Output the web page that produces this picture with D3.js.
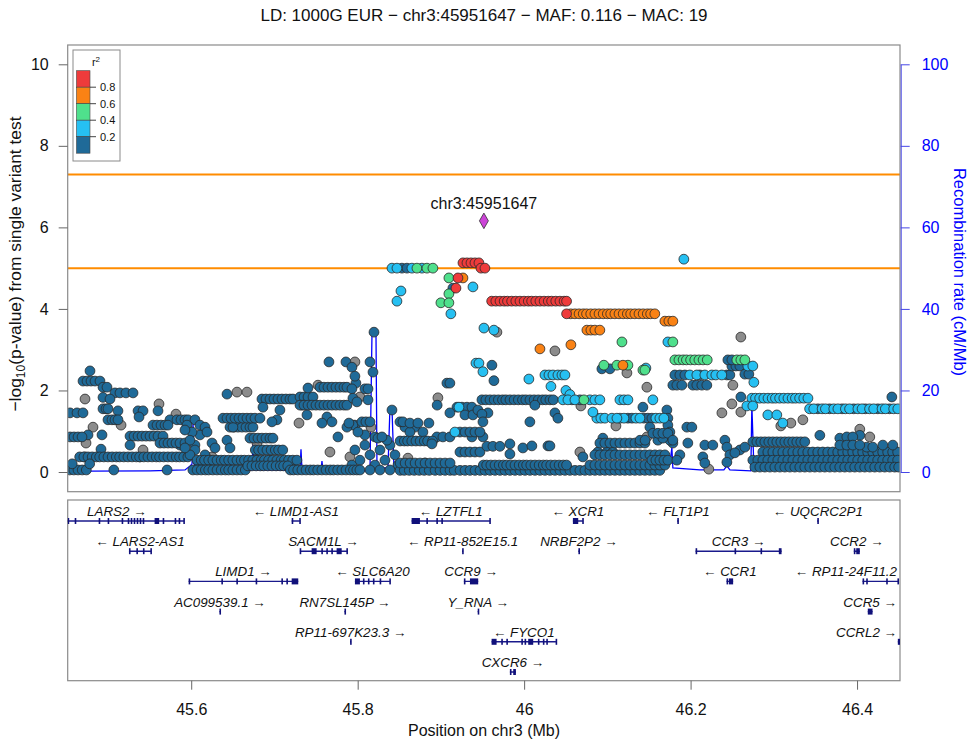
<!DOCTYPE html>
<html><head><meta charset="utf-8">
<script src="https://cdn.jsdelivr.net/npm/d3@7"></script>
<style>body{margin:0;background:#fff}svg{font-family:"Liberation Sans",Arial,sans-serif}</style>
</head><body><svg id="c" width="969" height="741"></svg>
<script>
// ---------------- DATA ----------------
const titleText = "LD: 1000G EUR \u2212 chr3:45951647 \u2212 MAF: 0.116 \u2212 MAC: 19";
const xDomain = [45.4516, 46.4516];
const xTicks = [45.6, 45.8, 46.0, 46.2, 46.4];
const leftTicks = [0, 2, 4, 6, 8, 10];
const rightTicks = [0, 20, 40, 60, 80, 100];
const thresholds = [7.3, 5];
const lead = {pos: 45.951647, logp: 6.16, label: "chr3:45951647"};
const legendBreaks = [0.2, 0.4, 0.6, 0.8];
const legendColors = ['#1F6A98', '#26C0F2', '#4FE08C', '#FA8214', '#EE3B3B'];

// SNP rows: [ -log10 p, [positions in Mb] ]
const snpRed = [
 [5.13,[45.9265,45.9313,45.9361,45.9409,45.9457]],
 [5.0,[45.9481,45.9529]],
 [4.76,[45.9205]],
 [4.51,[45.9181]],
 [4.19,[45.961,45.966,45.971,45.976,45.980,45.985,45.990,45.995,46.000,46.005,46.009,46.014,46.019,46.024,46.029,46.033,46.038,46.043,46.048,46.051]],
 [3.88,[46.051]]
];
const snpOrange = [
 [4.76,[45.9265]],
 [3.88,[46.056,46.061,46.066,46.071,46.075,46.080,46.085,46.090,46.095,46.100,46.104,46.109,46.114,46.119,46.124,46.128,46.133,46.138,46.143,46.148,46.152,46.157]],
 [3.70,[46.1691,46.1739,46.1787]],
 [3.48,[46.0754,46.0802,46.0850,46.0910]],
 [3.02,[46.0190]],
 [3.12,[46.0562]],
 [2.62,[46.1187]]
];
const snpGreen = [
 [5.0,[45.8712,45.8832,45.8904]],
 [4.76,[45.9096]],
 [4.37,[45.9096]],
 [4.15,[45.9000,45.9096]],
 [3.19,[46.1175,46.1787]],
 [2.62,[46.0958,46.1115,46.1247]],
 [2.5,[46.1427,46.1451]],
 [2.75,[46.1811,46.186,46.191,46.195,46.200,46.205,46.210,46.215,46.220,46.2556,46.2604,46.2652]],
 [1.77,[46.0718]]
];
const snpCyan = [
 [5.22,[46.1919]],
 [5.0,[45.8412,45.8472,45.8652,45.8772]],
 [4.44,[45.8520]],
 [4.19,[45.8472]],
 [3.88,[45.9120]],
 [4.54,[45.9385]],
 [3.53,[45.9517]],
 [3.48,[45.9637]],
 [3.19,[46.1727]],
 [2.67,[45.9421,45.9457]],
 [2.46,[45.9505]],
 [2.28,[46.0057]],
 [2.38,[46.0250,46.0298,46.0346,46.0406,46.0454,46.0490]],
 [2.10,[46.0322]],
 [2.0,[46.0502]],
 [1.9,[46.0550]],
 [2.55,[46.1463]],
 [2.38,[46.1991,46.2075,46.2171,46.2255,46.2303,46.2375]],
 [2.6,[46.2688,46.2748]],
 [2.2,[46.2760]],
 [1.81,[46.2736,46.278,46.283,46.288,46.293,46.298,46.302,46.307,46.312,46.317,46.322,46.326,46.331,46.336,46.341]],
 [1.62,[46.2676,46.2748]],
 [1.55,[46.343,46.348,46.358,46.362,46.372,46.377,46.386,46.391,46.401,46.406,46.415,46.420,46.430,46.434,46.444,46.449]],
 [1.4,[46.2928,46.3036]],
 [1.2,[46.3108]],
 [1.77,[46.1151,46.1199,46.1247,46.1547,46.0466,46.0526,46.0610,46.0790,46.0850,46.0910]],
 [1.32,[46.1151,46.1199,46.1343,46.1391,46.1583,46.1631,46.1679,46.0874,46.0922,46.0970,46.1055,46.1115]],
 [1.47,[46.0826]],
 [1.59,[45.9217]],
 [0.98,[45.9168]]
];
const snpBlue = [
 [3.43,[45.8196]],
 [2.70,[45.8148,45.7655,45.7859]],
 [2.45,[45.8184]],
 [2.62,[45.9613]],
 [2.24,[45.9637]],
 [2.18,[45.9072,45.9108,45.7979]],
 [5.0,[45.8532,45.8592]],
 [4.51,[45.9144]],
 [1.77,[45.9493,45.954,45.959,45.964,45.969,45.974,45.978,45.983,45.988,45.993,45.998,46.002,46.007,46.012,46.017,46.022,46.026,46.031,46.035,46.0574,46.0670,45.8124]],
 [1.59,[45.9193,45.9253,45.9313,45.9373,46.1427]],
 [1.64,[45.8955,46.0129]],
 [1.45,[45.9108,45.9565,46.0370]],
 [1.4,[45.9289,45.9385]],
 [1.52,[45.9445,46.1715,45.8412]],
 [1.42,[45.9493]],
 [1.23,[45.9505,46.0069]],
 [1.32,[46.0406,46.1247,46.1295,46.1439,46.1487,46.1535,46.1727]],
 [2.13,[46.1787,46.1835,46.1895,46.2027,46.2075,46.2135,46.2195]],
 [2.38,[46.1811,46.1871,46.1931,46.2111,46.2436,46.2472]],
 [2.6,[46.2496,46.2544,46.2592]],
 [2.4,[46.2652,46.2700]],
 [2.75,[46.2448,46.2496]],
 [2.53,[46.0934,46.1031]],
 [1.84,[46.2604,46.4418]],
 [1.55,[46.353,46.367,46.382,46.396,46.410,46.425,46.439]],
 [2.48,[45.4784]],
 [2.23,[45.4700,45.4748,45.4796,45.4844,45.4904]],
 [2.08,[45.4940,45.4988]],
 [1.94,[45.5084,45.5144,45.5216,45.5301]],
 [1.83,[45.4940]],
 [1.79,[45.5024]],
 [1.55,[45.4940,45.4976,45.5000]],
 [1.45,[45.4544,45.4628,45.4700]],
 [1.5,[45.5120,45.5361,45.5421,45.5601]],
 [1.28,[45.5000,45.5048,45.5084,45.5120,45.5745,45.5829,45.5877,45.5925,45.5961,45.6045,45.7030]],
 [0.91,[45.4760,45.4928,45.6105,45.8087]],
 [0.86,[45.4544,45.4592,45.4640,45.4688,45.7763,45.8208,45.8952,45.9024,45.9108,45.9373,45.9505]],
 [0.88,[45.5265,45.5313,45.5361,45.5409,45.5457,45.5505,45.5553,45.5601,45.5661]],
 [0.66,[45.5265,45.5865,45.6045,46.2171,46.2267,45.8087,45.8388]],
 [1.35,[45.5373,45.7631]],
 [1.15,[45.5541,45.5589,45.5637,45.5685,45.5721,45.5949,45.6105,45.7967,46.1727,45.7943]],
 [0.71,[45.5625,45.5673,45.5721,45.5769,45.5817,45.5865,45.5925,45.6250,46.1967,46.1787]],
 [0.56,[45.4916]],
 [0.37,[45.466,45.471,45.476,45.481,45.486,45.490,45.495,45.500,45.505,45.510,45.514,45.519,45.524,45.529,45.534,45.538,45.543,45.548,45.553,45.558,45.562,45.567,45.572,45.577,45.582,45.586,45.591,45.596]],
 [0.05,[45.454,45.459,45.464,45.469,45.474,45.507,45.571]],
 [0.2,[45.457,45.478]],
 [1.10,[45.6166,45.6466,45.6514,45.6562,45.6610,45.6658,45.6706,45.6742,45.6502,45.7871,46.1955,46.2015,46.1511,45.8568,45.8688]],
 [0.98,[45.6190,45.6010,45.8003,45.8628,45.8784,46.1751,45.9229,45.9289,45.9349,45.9409,45.9469]],
 [1.03,[45.5925]],
 [0.78,[45.5985,45.6430,45.8352,46.1607,46.1751,46.2412]],
 [0.54,[45.6045,45.677,45.681,45.686,45.691,45.696,45.701,45.705,45.710,46.2592,45.7967,45.8268]],
 [0.42,[45.5985,45.6166,46.1871,45.8148,45.8448]],
 [0.17,[45.6105,45.8208,45.8484,45.7931]],
 [0.29,[45.6226,45.8027,45.8328]],
 [0.59,[45.5925,45.6286,45.6466]],
 [1.91,[45.6430]],
 [1.32,[45.6382,45.6430,45.6478,45.6526,45.6574,45.6622,45.6670,45.6718,45.6766,45.6826]],
 [0.83,[45.6706,45.6754,45.6802,45.6850,45.6898,45.6946,45.6982,45.8244,46.1667]],
 [1.79,[45.6850,45.6898,45.6946,45.6994,45.7042,45.7090,45.7138,45.7186,45.7222]],
 [1.59,[45.6862]],
 [1.52,[45.7066]],
 [1.23,[45.6970,45.7691,45.8051,45.8099,45.8148,45.8508,45.8544]],
 [1.84,[45.7307,45.7355,45.7403,45.7463]],
 [1.64,[45.7331,45.7307,45.7355,45.7403,45.7451,45.7499,45.7547,45.7595,45.7643,45.7691,45.7739,45.7787,45.7835,45.7871]],
 [2.06,[45.7403]],
 [1.40,[45.7391]],
 [2.08,[45.7547,45.7595,45.7643,45.7691,45.7739,45.7787,45.7835,45.7871]],
 [2.57,[45.7931]],
 [2.35,[45.7967]],
 [1.20,[45.7571,45.7895,45.8628,45.8724,45.8856]],
 [2.04,[45.7931,45.8087,45.8124]],
 [1.81,[45.7943]],
 [1.72,[45.7991]],
 [0.86,[45.8292]],
 [0.29,[45.607,45.612,45.616,45.621,45.626,45.631,45.636,45.640,45.645,45.650,45.655,45.660,45.664,45.669,45.674,45.679,45.684,45.688,45.693,45.698,45.703,45.708,45.712,45.717,45.722,45.727]],
 [0.05,[45.602,45.607,45.612,45.617,45.621,45.626,45.631,45.636,45.641,45.645,45.650,45.655,45.660,45.665]],
 [0.15,[45.668,45.673,45.678,45.683,45.687,45.692,45.697,45.702,45.707,45.711,45.716]],
 [0.05,[45.719,45.723,45.728,45.733,45.738,45.743,45.747,45.752,45.757,45.762,45.767,45.771,45.776,45.781,45.786,45.791,45.795,45.799,45.8027,45.8148,45.8268,45.8388]],
 [0.76,[45.851,45.856,45.860,45.865,45.870,45.875,45.880,45.884,45.890]],
 [0.69,[45.8892,45.9829]],
 [0.04,[45.851,45.856,45.862,45.868,45.874,45.880,45.886,45.893,45.899,45.905,45.911,45.916,45.923,45.929,45.935,45.941,45.947,45.953,45.959,45.965,45.971,45.977,45.983,45.989,45.995,46.001,46.007,46.013,46.019,46.025,46.031,46.037,46.043,46.049,46.055,46.061,46.067,46.073,46.079,46.085,46.091,46.097,46.103,46.109,46.115,46.121,46.127,46.133,46.139,46.145,46.151,46.157,46.163]],
 [0.17,[45.951,45.955,45.960,45.965,45.970,45.975,45.979,45.984,45.989,45.994,45.999,46.003,46.008,46.013,46.018,46.023,46.027,46.032,46.037,46.042,46.047,46.051]],
 [0.22,[45.851,45.857,45.863,45.869,45.875,45.881,45.887,45.893,45.899,45.905,45.911]],
 [0.49,[45.9229,45.9289,45.9349,45.9409,45.9469]],
 [0.63,[45.9553,45.9625,45.9709]],
 [0.44,[45.9829]],
 [0.59,[45.9985]],
 [0.64,[46.0093,46.0286,46.0310]],
 [0.37,[46.0706]],
 [0.49,[46.0886,46.0994,46.1067]],
 [0.83,[46.0946]],
 [0.71,[46.0910,46.0970,46.1031,46.1091,46.1151,46.1211,46.1271,46.1331,46.1391,46.1451]],
 [0.42,[46.0850,46.0910,46.0970,46.1031,46.1091,46.1151,46.1211,46.1271,46.1331,46.1391,46.1451,46.1511,46.1571,46.1631,46.1691]],
 [0.17,[46.0790,46.0850,46.0910,46.0970,46.1031,46.1091,46.1151,46.1211,46.1271,46.1331,46.1391,46.1451,46.1511,46.1571,46.1631,46.1691]],
 [0.95,[46.1547,46.1607,46.1667,46.1727]],
 [0.78,[46.1787,46.1393,46.1453]],
 [0.29,[46.1535,46.1583,46.1631,46.1679,46.1727,46.1835]],
 [0.37,[46.2147]],
 [0.22,[46.2171]],
 [0.61,[46.2436]],
 [0.42,[46.2472]],
 [0.24,[46.2436]],
 [0.47,[46.2532]],
 [0.61,[46.2652]],
 [0.74,[46.2748,46.2796,46.2844,46.2892,46.2940,46.2988,46.3036,46.3084,46.3132,46.3180,46.3228,46.3276,46.3324,46.3372]],
 [0.49,[46.2868,46.2928,46.2988,46.3048,46.3108,46.3168,46.3228,46.3288,46.3348,46.3408,46.3468,46.3528,46.3588,46.3648,46.3708,46.3768,46.3828,46.3888,46.3948,46.4008,46.4068,46.4128,46.4188,46.4248,46.4308,46.4368,46.4428,46.4488]],
 [0.29,[46.2748,46.2808,46.2868,46.2928,46.2988,46.3048,46.3108,46.3168,46.3228,46.3288,46.3348,46.3408,46.3468,46.3528,46.3588,46.3648,46.3708,46.3768,46.3828,46.3888,46.3948,46.4008,46.4068,46.4128,46.4188,46.4248,46.4308,46.4368,46.4428,46.4488]],
 [0.12,[46.2772,46.2832,46.2892,46.2952,46.3012,46.3072,46.3132,46.3192,46.3252,46.3312,46.3372,46.3432,46.3492,46.3552,46.3612,46.3672,46.3732,46.3792,46.3852,46.3912,46.3972,46.4032,46.4092,46.4152,46.4212,46.4272,46.4332,46.4392,46.4452,46.4500]],
 [0.9,[46.3553,46.4033]],
 [0.83,[46.3793]],
 [0.86,[46.3877,46.3949]],
 [0.61,[46.4117,46.4189]],
 [0.66,[46.3793,46.3877,46.3949,46.4033,46.4310,46.4430]]
];
const snpGrey = [
 [1.79,[45.4724]],[1.15,[45.5157]],[1.10,[45.4820,45.8160]],[0.71,[45.4736,45.6790]],
 [1.67,[45.5613]],[1.42,[45.5817]],[1.96,[45.6550,45.6670]],[1.20,[45.7295]],
 [2.13,[45.7523,46.2508]],[2.70,[45.7967]],[0.37,[45.7907,45.4724,45.5385,45.6250]],
 [1.84,[45.8027]],[1.82,[45.8964]],[3.43,[45.9673]],[2.97,[46.0370]],[3.31,[46.2604]],
 [2.43,[46.1235]],[1.13,[46.1103]],[2.08,[46.1475]],[0.86,[46.1475,46.4153]],
 [1.67,[46.2496]],[1.47,[46.2604]],[1.45,[46.2376]],[1.13,[46.3084]],[1.20,[46.3205]],
 [1.28,[46.3349]],[1.05,[46.4033]],[0.49,[46.0670,45.7667]],[0.07,[46.2219,45.7253]],
 [1.62,[46.0682]],[0.12,[45.9565]],[0.34,[45.8604]],[0.22,[45.8808]],[0.54,[45.5421]],
 [0.17,[45.7030]],[0.29,[45.6790,45.6946]]
];
const ldClassR2 = {grey: NaN, blue: 0.1, cyan: 0.3, green: 0.5, orange: 0.7, red: 0.9};

// Recombination rate (cM/Mb)
const recombPos = [45.4520,45.4760,45.5505,45.5926,45.5986,45.6010,45.6022,45.6034,45.6058,45.6418,45.6454,45.6490,45.6730,45.6742,45.6754,45.7307,45.7319,45.7331,45.7559,45.7571,45.7583,45.8148,45.8172,45.8220,45.8232,45.8364,45.8388,45.8412,45.8436,45.8484,45.9097,45.9109,45.9121,46.0910,46.1631,46.1667,46.1751,46.1775,46.1787,46.2112,46.2400,46.2436,46.2472,46.2724,46.2736,46.2760,46.3313,46.3793,46.3853,46.3997,46.4153,46.4514];
const recombRate = [0.3,0.2,0.3,0.5,1.5,2,12,2,0.8,0.8,3.4,0.8,0.5,7,0.5,0.4,5.6,0.4,0.3,2.7,0.3,0.3,34,34,1,1,15.7,15.7,1,0.3,0.2,3,0.2,0.2,0.3,1,2,6,1,0.5,0.5,1.5,0.5,0.3,16.4,1.5,1,1,0.8,1,0.5,0.5];

// Genes
const geneName  = ["LARS2","LIMD1-AS1","LZTFL1","XCR1","FLT1P1","UQCRC2P1",
                   "LARS2-AS1","SACM1L","RP11-852E15.1","NRBF2P2","CCR3","CCR2",
                   "LIMD1","SLC6A20","CCR9","CCR1","RP11-24F11.2",
                   "AC099539.1","RN7SL145P","Y_RNA","CCR5",
                   "RP11-697K23.3","FYCO1","CCRL2","CXCR6"];
const geneStart = [45.4300,45.7207,45.8648,46.0586,46.1840,46.3522,
                   45.5252,45.7306,45.9255,46.0652,46.2060,46.3961,
                   45.5969,45.7967,45.9276,46.2432,46.4066,
                   45.6339,45.7841,45.9442,46.4129,
                   45.7909,45.9609,46.4490,45.9829];
const geneEnd   = [45.5913,45.7306,45.9589,46.0706,46.1855,46.3536,
                   45.5517,45.7871,45.9267,46.0664,46.3093,46.4033,
                   45.7286,45.8387,45.9448,46.2511,46.4493,
                   45.6351,45.7853,45.9454,46.4186,
                   45.7921,46.0382,46.4600,45.9901];
const geneStrand = ["+","-","-","-","-","-", "-","+","-","+","+","+", "+","-","+","-","-", "+","+","+","+", "+","-","+","+"];
const geneRow    = [0,0,0,0,0,0, 1,1,1,1,1,1, 2,2,2,2,2, 3,3,3,3, 4,4,4, 5];
const geneExons = [
 [[45.4515,45.4525],[45.4600,45.4608],[45.4888,45.4896],[45.4996,45.5004],[45.5164,45.5172],[45.5237,45.5245],[45.5273,45.5281],[45.5309,45.5317],[45.5345,45.5353],[45.5381,45.5389],[45.5417,45.5425],[45.5560,45.5615],[45.5657,45.5665],[45.5801,45.5809],[45.5849,45.5857],[45.5905,45.5913]],
 [[45.7207,45.7215],[45.7298,45.7306]],
 [[45.8648,45.8748],[45.8825,45.8833],[45.8945,45.8953],[45.9005,45.9013],[45.9581,45.9589]],
 [[46.0586,46.0650],[46.0698,46.0706]],
 [[46.1840,46.1855]],
 [[46.3522,46.3536]],
 [[45.5252,45.5260],[45.5341,45.5349],[45.5420,45.5428],[45.5509,45.5517]],
 [[45.7303,45.7311],[45.7447,45.7507],[45.7563,45.7571],[45.7623,45.7631],[45.7683,45.7691],[45.7747,45.7808],[45.7864,45.7872]],
 [[45.9255,45.9267]],
 [[46.0652,46.0664]],
 [[46.2060,46.2068],[46.2528,46.2536],[46.2840,46.2848],[46.3060,46.3093]],
 [[46.3961,46.3975],[46.3990,46.4033]],
 [[45.5969,45.5977],[45.6362,45.6370],[45.6542,45.6550],[45.6774,45.6782],[45.7083,45.7091],[45.7143,45.7151],[45.7207,45.7286]],
 [[45.7967,45.8027],[45.8063,45.8071],[45.8123,45.8131],[45.8183,45.8191],[45.8264,45.8272],[45.8380,45.8388]],
 [[45.9276,45.9284],[45.9349,45.9448]],
 [[46.2432,46.2445],[46.2460,46.2511]],
 [[46.4066,46.4074],[46.4110,46.4118],[46.4350,46.4358],[46.4485,46.4493]],
 [[45.6339,45.6351]],
 [[45.7841,45.7853]],
 [[45.9442,45.9454]],
 [[46.4129,46.4186]],
 [[45.7909,45.7921]],
 [[45.9609,45.9669],[45.9725,45.9733],[45.9786,45.9794],[45.9966,45.9974],[46.0005,46.0013],[46.0049,46.0109],[46.0165,46.0173],[46.0225,46.0233],[46.0266,46.0274],[46.0378,46.0386]],
 [[46.4490,46.4600]],
 [[45.9829,45.9837],[45.9869,45.9901]]
];

// ---------------- DRAWING ----------------
const svg = d3.select('#c');
const P = {l: 67.7, r: 900, t: 45, b: 491.7};
const G = {t: 500, b: 680.7};
const x = d3.scaleLinear().domain(xDomain).range([P.l, P.r]);
const y = d3.scaleLinear().domain([0, 10]).range([472, 64.3]);
const yr = d3.scaleLinear().domain([0, 100]).range([472, 64.3]);
const ldColor = d3.scaleThreshold().domain(legendBreaks).range(legendColors);
const colorOf = r2 => isNaN(r2) ? '#8C8C8C' : ldColor(r2);

svg.append('defs').append('clipPath').attr('id','pc')
  .append('rect').attr('x',P.l).attr('y',P.t).attr('width',P.r-P.l).attr('height',P.b-P.t);
svg.select('defs').append('clipPath').attr('id','gc')
  .append('rect').attr('x',P.l).attr('y',G.t).attr('width',P.r-P.l).attr('height',G.b-G.t);

// title
svg.append('text').attr('x',484).attr('y',21).attr('text-anchor','middle')
  .attr('font-size',17).attr('fill','#111').text(titleText);

// thresholds
const plot = svg.append('g').attr('clip-path','url(#pc)');
plot.selectAll('line.th').data(thresholds).enter().append('line')
  .attr('x1',P.l).attr('x2',P.r).attr('y1',d=>y(d)).attr('y2',d=>y(d))
  .attr('stroke','#FF8C00').attr('stroke-width',2);

// recombination
const recomb = recombPos.map((p,i)=>[p,recombRate[i]]);
plot.append('path').datum(recomb)
  .attr('d', d3.line().x(d=>x(d[0])).y(d=>yr(d[1])))
  .attr('fill','none').attr('stroke','#0000FF').attr('stroke-width',1.3);

// points
const groups = [['grey',snpGrey],['blue',snpBlue],['cyan',snpCyan],['green',snpGreen],['orange',snpOrange],['red',snpRed]];
const pts = [];
groups.forEach(([k,rows])=>{
  rows.forEach(([lp,arr])=>arr.forEach(p=>pts.push({pos:p,logp:lp,r2:ldClassR2[k]})));
});
plot.selectAll('circle.snp').data(pts).enter().append('circle')
  .attr('cx',d=>x(d.pos)).attr('cy',d=>y(d.logp)).attr('r',4.9)
  .attr('fill',d=>colorOf(d.r2)).attr('stroke','#2a2a2a').attr('stroke-width',0.8);

// lead
plot.append('path').attr('d',d3.symbol().type(d3.symbolDiamond).size(70)())
  .attr('transform',`translate(${x(lead.pos)},${y(lead.logp)})`)
  .attr('fill','#CC44D8').attr('stroke','#333').attr('stroke-width',0.8);
svg.append('text').attr('x',x(lead.pos)).attr('y',y(lead.logp)-12)
  .attr('text-anchor','middle').attr('font-size',16).attr('fill','#111').text(lead.label);

// frames
svg.append('rect').attr('x',P.l).attr('y',P.t).attr('width',P.r-P.l).attr('height',P.b-P.t)
  .attr('fill','none').attr('stroke','#8a8a8a').attr('stroke-width',1.2);
svg.append('rect').attr('x',P.l).attr('y',G.t).attr('width',P.r-P.l).attr('height',G.b-G.t)
  .attr('fill','none').attr('stroke','#8a8a8a').attr('stroke-width',1.2);

// left axis
const la = svg.append('g').attr('transform',`translate(${P.l},0)`)
  .call(d3.axisLeft(y).tickValues(leftTicks).tickSize(9).tickPadding(10).tickSizeOuter(0));
la.select('.domain').remove();
la.selectAll('line').attr('stroke','#666');
la.selectAll('text').attr('font-size',16).attr('fill','#111').attr('font-family','Liberation Sans, Arial, sans-serif');

// right axis
const ra = svg.append('g').attr('transform',`translate(${P.r+0.7},0)`)
  .call(d3.axisRight(yr).tickValues(rightTicks).tickSize(9).tickPadding(12).tickSizeOuter(0));
ra.select('.domain').attr('stroke','#4646E6');
ra.selectAll('line').attr('stroke','#4646E6');
ra.selectAll('text').attr('font-size',16).attr('fill','#0000FF').attr('font-family','Liberation Sans, Arial, sans-serif');

// x axis
const xa = svg.append('g').attr('transform',`translate(0,${G.b})`)
  .call(d3.axisBottom(x).tickValues(xTicks).tickSize(9).tickPadding(14).tickFormat(d=>String(+d.toFixed(1))));
xa.select('.domain').remove();
xa.selectAll('line').attr('stroke','#666');
xa.selectAll('text').attr('font-size',16).attr('fill','#111').attr('font-family','Liberation Sans, Arial, sans-serif');

// axis titles
const yl = svg.append('text').attr('transform','translate(21,264) rotate(-90)')
  .attr('text-anchor','middle').attr('font-size',17.4).attr('fill','#111');
yl.append('tspan').text('\u2212log');
yl.append('tspan').attr('font-size',12).attr('dy',4).text('10');
yl.append('tspan').attr('dy',-4).text('(p-value) from single variant test');
svg.append('text').attr('transform','translate(954,272) rotate(90)')
  .attr('text-anchor','middle').attr('font-size',16.5).attr('fill','#0000FF').text('Recombination rate (cM/Mb)');
svg.append('text').attr('x',484).attr('y',736).attr('text-anchor','middle')
  .attr('font-size',16).attr('fill','#111').text('Position on chr3 (Mb)');

// legend
const lg = svg.append('g');
lg.append('rect').attr('x',73).attr('y',50).attr('width',47).attr('height',111)
  .attr('fill','#fff').attr('stroke','#8a8a8a').attr('stroke-width',1);
const lt = lg.append('text').attr('x',96).attr('y',66).attr('text-anchor','middle').attr('font-size',11).attr('fill','#111');
lt.append('tspan').text('r');
lt.append('tspan').attr('font-size',8).attr('dy',-4).text('2');
const boxH = 16.5, boxTop = 70.7;
legendColors.slice().reverse().forEach((c,i)=>{
  lg.append('rect').attr('x',76.5).attr('y',boxTop+i*boxH).attr('width',13.5).attr('height',boxH)
    .attr('fill',c).attr('stroke','#444').attr('stroke-width',0.6);
});
legendBreaks.slice().reverse().forEach((b,i)=>{
  const yy = boxTop+(i+1)*boxH;
  lg.append('line').attr('x1',90).attr('x2',96).attr('y1',yy).attr('y2',yy).attr('stroke','#444');
  lg.append('text').attr('x',100).attr('y',yy+4).attr('font-size',11).attr('fill','#111').text(b.toFixed(1));
});

// genes
const gg = svg.append('g');
const gclip = gg.append('g').attr('clip-path','url(#gc)');
const rowLine = r => 521 + r*30.2;
geneName.forEach((nm,i)=>{
  const ly = rowLine(geneRow[i]);
  gclip.append('line').attr('x1',x(geneStart[i])).attr('x2',x(geneEnd[i]))
    .attr('y1',ly).attr('y2',ly).attr('stroke','#1a1a8c').attr('stroke-width',1.4);
  geneExons[i].forEach(e=>{
    const x0 = x(e[0]), w = Math.max(1.6, x(e[1])-x(e[0]));
    gclip.append('rect').attr('x',x0).attr('y',ly-3).attr('width',w).attr('height',6).attr('fill','#10107a');
  });
  const label = geneStrand[i]==='+' ? nm+' \u2192' : '\u2190 '+nm;
  const t = gg.append('text').attr('y',ly-5).attr('text-anchor','middle')
    .attr('font-size',13.4).attr('font-style','italic').attr('fill','#111').text(label);
  const w = t.node().getComputedTextLength();
  let cx = x((geneStart[i]+geneEnd[i])/2);
  cx = Math.max(P.l+3+w/2, Math.min(P.r-3-w/2, cx));
  t.attr('x',cx);
});
</script></body></html>
